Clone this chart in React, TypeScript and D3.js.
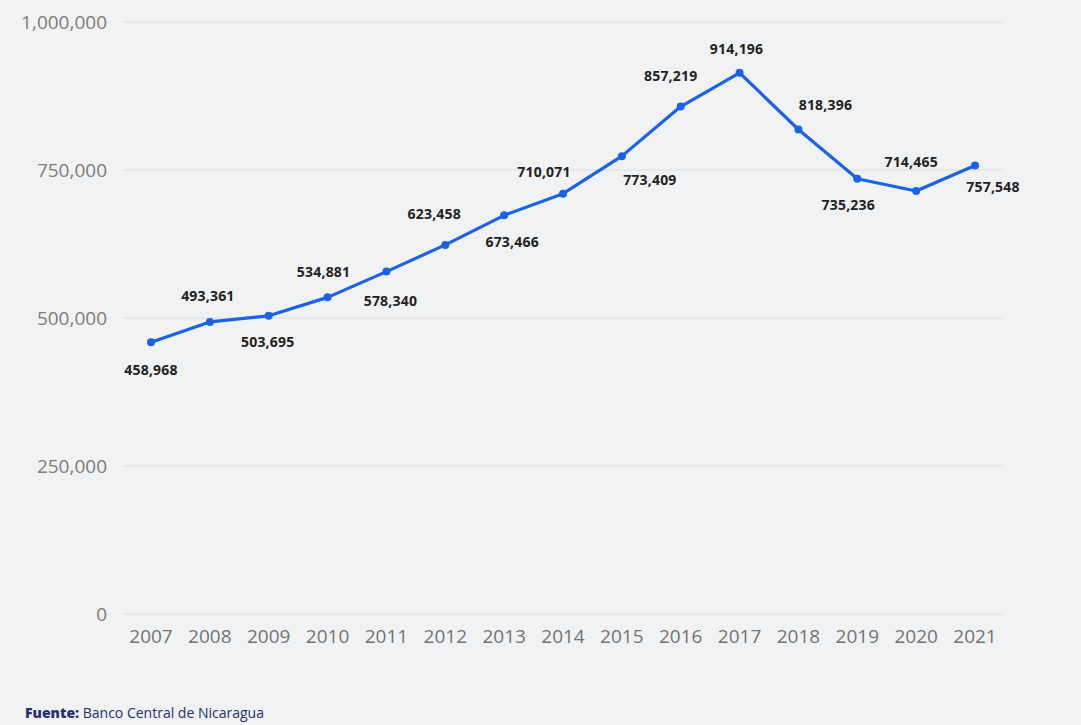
import React from "react";
import * as d3 from "d3";

const years = ["2007","2008","2009","2010","2011","2012","2013","2014","2015","2016","2017","2018","2019","2020","2021"];
const values = [458968, 493361, 503695, 534881, 578340, 623458, 673466, 710071, 773409, 857219, 914196, 818396, 735236, 714465, 757548];
const yTicks = [0, 250000, 500000, 750000, 1000000];
// label placement offsets relative to each point (layout only)
const labelDx = [0, -2, -1, -4, 4, -11, 8, -19, 28, -10, -3, 27, -9, -5, 18];
const labelDy = [28, -26, 26, -25, 29, -31, 27, -22, 24, -30, -24, -24, 26, -29, 22];

const W = 1081, H = 725;

export default function App() {
  const x = d3.scalePoint<string>().domain(years).range([151, 975]);
  const y = d3.scaleLinear().domain([0, 1000000]).range([614, 22]);
  const fmt = d3.format(",");
  const line = d3.line<number>().x((_, i) => x(years[i])!).y((d) => y(d));

  return (
    <svg width={W} height={H} style={{ position: "absolute", left: 0, top: 0 }}>
      <rect x={0} y={0} width={W} height={H} fill="#f1f2f4" />
      {yTicks.map((t) => (
        <g key={t}>
          <line x1={122} x2={1003} y1={y(t)} y2={y(t)} stroke="#dcdde0" strokeWidth={1.2} />
          <text x={107} y={y(t)} dy="0.35em" textAnchor="end" fontFamily="'Open Sans', sans-serif" fontSize={19} fill="#7d7d7d">
            {fmt(t)}
          </text>
        </g>
      ))}
      {years.map((yr) => (
        <text key={yr} x={x(yr)} y={636} dy="0.35em" textAnchor="middle" fontFamily="'Open Sans', sans-serif" fontSize={19} fill="#737373">
          {yr}
        </text>
      ))}
      <path d={line(values) || ""} fill="none" stroke="#1b63e6" strokeWidth={3.2} strokeLinejoin="round" />
      {values.map((v, i) => (
        <circle key={i} cx={x(years[i])} cy={y(v)} r={4} fill="#1b63e6" />
      ))}
      {values.map((v, i) => (
        <text key={"l" + i} x={x(years[i])! + labelDx[i]} y={y(v) + labelDy[i]} dy="0.35em" textAnchor="middle"
          fontFamily="'Open Sans', sans-serif" fontWeight={700} fontSize={14} letterSpacing={0.2} fill="#222">
          {fmt(v)}
        </text>
      ))}
      <text x={25} y={713} dy="0.35em" fontFamily="'Open Sans', sans-serif" fontSize={14} fill="#263070">
        <tspan fontWeight={800}>Fuente:</tspan>
        <tspan> Banco Central de Nicaragua</tspan>
      </text>
    </svg>
  );
}
